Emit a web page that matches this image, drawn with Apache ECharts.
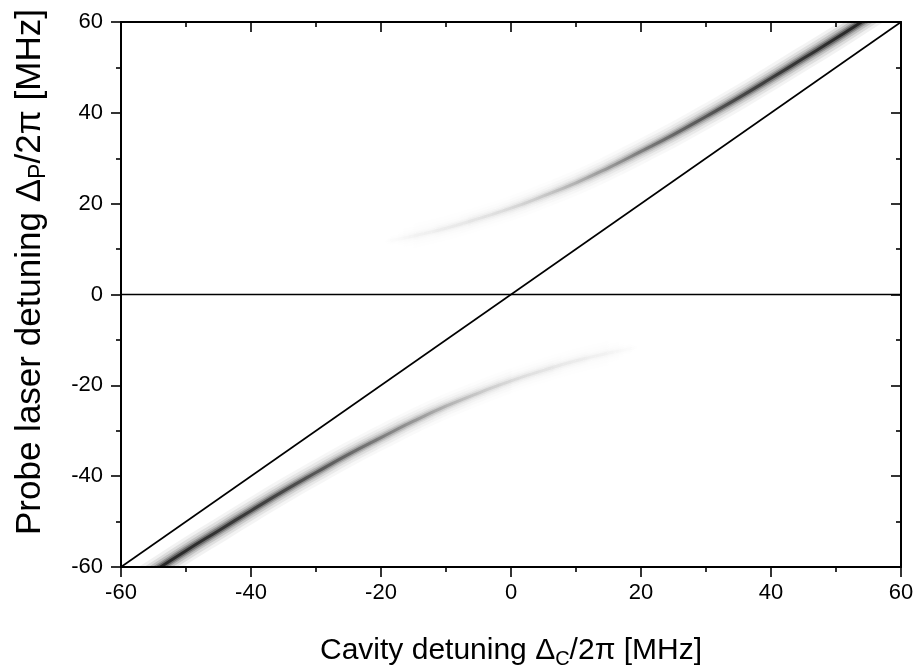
<!DOCTYPE html>
<html>
<head>
<meta charset="utf-8">
<script src="https://cdn.jsdelivr.net/npm/echarts@6/dist/echarts.min.js"></script>
<style>
  html, body { margin: 0; padding: 0; background: #fff; }
  #chart { width: 917px; height: 668px; }
</style>
</head>
<body>
<div id="chart"></div>
<script>
// upper branch, darkness 0..1 along it
const upperX    = [-20, -15, -10, -5, 0, 5, 10, 15, 20, 25, 30, 35, 40, 45, 50, 55, 60];
const upperY    = [11.5, 12.9, 14.6, 16.7, 19.0, 21.7, 24.6, 27.9, 31.5, 35.2, 39.2, 43.3, 47.6, 52.0, 56.4, 61.0, 65.5];
const upperDark = [0.0, 0.03, 0.05, 0.07, 0.10, 0.15, 0.22, 0.31, 0.41, 0.50, 0.59, 0.67, 0.74, 0.80, 0.86, 0.90, 0.92];

// lower branch
const lowerX    = [-60, -55, -50, -45, -40, -35, -30, -25, -20, -15, -10, -5, 0, 5, 10, 15, 20];
const lowerY    = [-65.5, -61.0, -56.4, -52.0, -47.6, -43.3, -39.2, -35.2, -31.5, -27.9, -24.6, -21.7, -19.0, -16.7, -14.6, -12.9, -11.5];
const lowerDark = [0.92, 0.90, 0.86, 0.80, 0.74, 0.67, 0.59, 0.50, 0.41, 0.31, 0.22, 0.15, 0.10, 0.07, 0.05, 0.03, 0.0];

// reference lines
const diagLine = [[-60, -60], [60, 60]];
const zeroLine = [[-60, 0], [60, 0]];

const axisMin = -60, axisMax = 60, axisStep = 20;

const FONT = 'Liberation Sans, Arial, sans-serif';

// band drawn as stacked strokes: wide/faint -> narrow/dark, gives a soft profile
const layers = [
  { width: 24, alpha: 0.06 },
  { width: 18, alpha: 0.10 },
  { width: 13, alpha: 0.15 },
  { width: 9,  alpha: 0.22 },
  { width: 6,  alpha: 0.35 },
  { width: 3,  alpha: 0.70 }
];

const W = 917, H = 668;
const G = { left: 121, right: 16, top: 22, bottom: 101 };

function pairs(xs, ys) {
  return xs.map(function (x, i) { return [x, ys[i]]; });
}

const series = [];
const visualMaps = [];
[[upperX, upperY, upperDark], [lowerX, lowerY, lowerDark]].forEach(function (b) {
  layers.forEach(function (l) {
    visualMaps.push({
      type: 'continuous', show: false, dimension: 0,
      seriesIndex: series.length,
      min: b[0][0], max: b[0][b[0].length - 1],
      inRange: { color: b[2].map(function (d) { return 'rgba(0,0,0,' + (d * l.alpha).toFixed(3) + ')'; }) }
    });
    series.push({
      type: 'line', data: pairs(b[0], b[1]), smooth: true,
      showSymbol: false, symbol: 'none', silent: true, z: 2,
      lineStyle: { width: l.width, cap: 'butt' }
    });
  });
});

series.push({
  type: 'line', data: diagLine, symbol: 'none', silent: true, z: 5,
  lineStyle: { color: '#000', width: 1.6 }
});
series.push({
  type: 'line', data: zeroLine, symbol: 'none', silent: true, z: 5,
  lineStyle: { color: '#000', width: 1.6 }
});

function axis(pos, showLabel, inside) {
  return {
    type: 'value', position: pos, min: axisMin, max: axisMax, interval: axisStep, z: 6,
    splitLine: { show: false },
    axisLine: { show: true, onZero: false, lineStyle: { color: '#000', width: 2 } },
    axisTick: { show: true, inside: inside, length: 10, lineStyle: { color: '#000', width: 1.6 } },
    minorTick: { show: true, splitNumber: 2, length: 5, lineStyle: { color: '#000', width: 1.6 } },
    axisLabel: { show: showLabel, color: '#000', fontFamily: FONT, fontSize: 22, margin: pos === 'left' ? 18 : 15 }
  };
}

const xBottom = axis('bottom', true, false);
xBottom.name = '{t|Cavity detuning Δ}{s|C}{t|/2π [MHz]}';
xBottom.nameLocation = 'middle';
xBottom.nameGap = 66;
xBottom.nameTextStyle = {
  rich: {
    t: { fontFamily: FONT, fontSize: 30, color: '#000', lineHeight: 36 },
    s: { fontFamily: FONT, fontSize: 20, color: '#000', lineHeight: 20, verticalAlign: 'bottom' }
  }
};

// white masks outside the frame so the wide band strokes end at the axes
function mask(x, y, w, h) {
  return { type: 'rect', z: 4, silent: true, shape: { x: x, y: y, width: w, height: h }, style: { fill: '#fff' } };
}

const option = {
  animation: false,
  backgroundColor: '#fff',
  grid: Object.assign({ outerBoundsMode: 'none', containLabel: false }, G),
  xAxis: [xBottom, axis('top', false, true)],
  yAxis: [axis('left', true, false), axis('right', false, true)],
  visualMap: visualMaps,
  series: series,
  graphic: [
    mask(0, 0, W, G.top - 1),
    mask(0, H - G.bottom + 1, W, G.bottom),
    mask(0, 0, G.left - 1, H),
    mask(W - G.right + 1, 0, G.right, H),
    {
      type: 'text', z: 10,
      x: 30, y: 535,
      rotation: Math.PI / 2,
      style: {
        text: '{t|Probe laser detuning Δ}{s|P}{t|/2π [MHz]}',
        textAlign: 'left', textVerticalAlign: 'middle',
        rich: {
          t: { fontFamily: FONT, fontSize: 35, fill: '#000', lineHeight: 40 },
          s: { fontFamily: FONT, fontSize: 23, fill: '#000', lineHeight: 23, verticalAlign: 'bottom' }
        }
      }
    }
  ]
};

const chart = echarts.init(document.getElementById('chart'), null, { renderer: 'canvas' });
chart.setOption(option);
</script>
</body>
</html>
